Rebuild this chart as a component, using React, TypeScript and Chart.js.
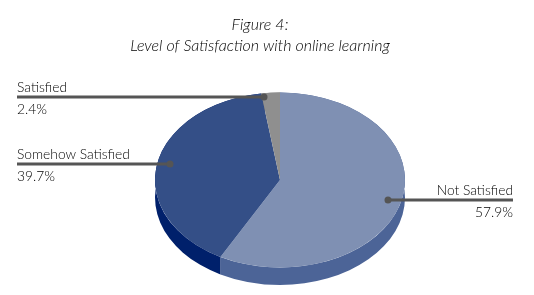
import React, { useEffect, useRef } from "react";
import { Chart, registerables } from "chart.js";

Chart.register(...registerables);

const categories = ["Not Satisfied", "Somehow Satisfied", "Satisfied"];
const shares = [57.9, 39.7, 2.4];
const topColors = ["#7F90B3", "#344F87", "#8F8F8F"];
const wallColors = ["#4C6497", "#00206B", "#6B6B6B"];
const titleLines = ["Figure 4:", "Level of Satisfaction with online learning"];

const FONT = "Lato";
const CX = 280;
const CY = 180;
const RX = 125;
const SQUASH = 0.7;
const DEPTH = 17.5;
const INK = "#555555";

// label layout: [line start, line end, y, dot x, text x, align]
const leaders: [number, number, number, number, number, CanvasTextAlign][] = [
  [388, 513, 200, 388, 513, "right"],
  [17, 170, 164, 170, 17, "left"],
  [17, 264, 97, 264, 17, "left"],
];

const piePerspective = {
  id: "piePerspective",
  beforeDatasetDraw(chart: any) {
    const ctx = chart.ctx;
    const arcs = chart.getDatasetMeta(0).data;
    const ry = RX * SQUASH;
    ctx.save();
    arcs.forEach((arc: any, i: number) => {
      ctx.fillStyle = wallColors[i];
      ctx.beginPath();
      ctx.ellipse(CX, CY + DEPTH, RX, ry, 0, arc.startAngle, arc.endAngle);
      ctx.ellipse(CX, CY, RX, ry, 0, arc.endAngle, arc.startAngle, true);
      ctx.closePath();
      ctx.fill();
    });
    ctx.restore();
    ctx.save();
    const a = arcs[0];
    ctx.translate(CX, CY);
    ctx.scale(1, SQUASH);
    ctx.translate(-a.x, -a.y);
  },
  afterDatasetDraw(chart: any) {
    const ctx = chart.ctx;
    ctx.restore();
    ctx.save();
    leaders.forEach(([x0, x1, y, dot, tx, align], i) => {
      ctx.strokeStyle = INK;
      ctx.lineWidth = 3;
      ctx.beginPath();
      ctx.moveTo(x0, y);
      ctx.lineTo(x1, y);
      ctx.stroke();
      ctx.fillStyle = INK;
      ctx.beginPath();
      ctx.arc(dot, y, 3.5, 0, Math.PI * 2);
      ctx.fill();
      ctx.fillStyle = "#000000";
      ctx.font = `300 13.8px ${FONT}`;
      ctx.textAlign = align;
      ctx.textBaseline = "alphabetic";
      ctx.fillText(categories[i], tx, y - 5);
      ctx.fillText(shares[i].toFixed(1) + "%", tx, y + 17);
    });
    ctx.restore();
  },
};

export default function App() {
  const ref = useRef<HTMLCanvasElement>(null);
  useEffect(() => {
    document.body.style.margin = "0";
    document.body.style.background = "#ffffff";
    const chart = new Chart(ref.current!, {
      type: "pie",
      data: {
        labels: categories,
        datasets: [
          {
            data: shares,
            backgroundColor: topColors,
            borderWidth: 0,
            clip: false,
          } as any,
        ],
      },
      options: {
        responsive: false,
        animation: false,
        radius: RX,
        layout: { padding: { right: 14, top: 0, left: 0, bottom: 0 } },
        plugins: {
          legend: { display: false },
          tooltip: { enabled: false },
          title: {
            display: true,
            text: titleLines,
            color: "#000000",
            font: { family: FONT, size: 16, style: "italic", weight: 300, lineHeight: 1.31 },
            padding: { top: 14, bottom: 0 },
          },
        },
      } as any,
      plugins: [piePerspective],
    });
    return () => chart.destroy();
  }, []);
  return <canvas ref={ref} width={534} height={295} style={{ display: "block" }} />;
}
